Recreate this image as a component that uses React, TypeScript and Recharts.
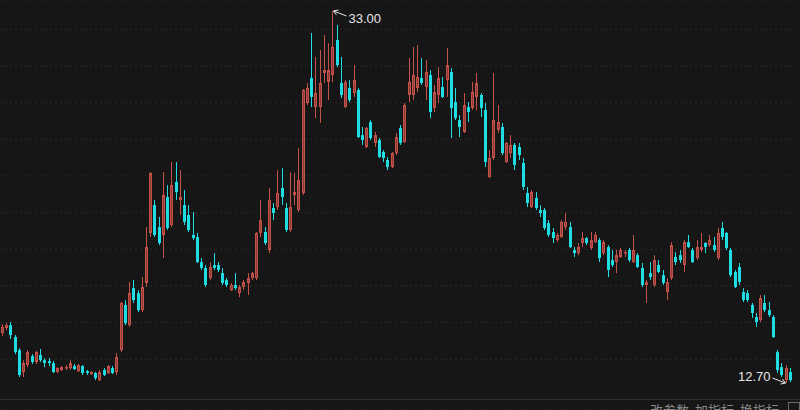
import React from 'react';
import { ComposedChart, Bar, XAxis, YAxis, CartesianGrid } from 'recharts';

const opens = [
  15.43, 15.70, 15.86, 15.21, 14.50, 13.30, 13.68, 14.17, 13.85, 14.23,
  13.95, 13.90, 13.79, 13.30, 13.41, 13.52, 13.52, 13.63, 13.35, 13.63,
  13.35, 13.19, 13.25, 12.86, 13.41, 13.25, 13.52, 13.30, 14.50, 16.96,
  15.86, 17.88, 17.61, 16.68, 18.16, 20.89, 22.41, 21.21, 20.78, 22.85,
  21.32, 23.67, 22.69, 22.41, 21.87, 20.78, 20.67, 19.30, 18.98, 18.43,
  19.14, 19.14, 18.70, 18.32, 17.77, 18.05, 17.61, 17.94, 18.16, 18.43,
  18.43, 20.89, 20.94, 19.96, 22.25, 22.30, 23.34, 22.25, 21.05, 22.96,
  22.14, 23.07, 27.98, 29.34, 27.76, 27.76, 29.62, 29.13, 29.51, 31.42,
  29.07, 27.76, 28.80, 28.52, 28.69, 26.23, 25.58, 26.94, 25.80, 25.96,
  25.31, 24.87, 24.49, 25.25, 26.62, 25.85, 28.42, 28.42, 28.80, 29.34,
  28.85, 29.51, 27.71, 28.42, 28.85, 29.23, 29.67, 28.03, 27.05, 26.40,
  27.76, 27.71, 28.31, 28.42, 27.60, 23.94, 24.98, 26.51, 26.67, 24.76,
  25.25, 25.69, 25.58, 24.71, 23.07, 22.30, 22.80, 22.14, 22.14, 21.43,
  20.94, 20.50, 20.67, 21.21, 21.21, 19.96, 19.79, 20.34, 20.61, 20.07,
  20.39, 20.50, 19.79, 20.12, 19.41, 19.30, 19.58, 19.79, 19.96, 19.30,
  19.68, 18.98, 18.05, 18.70, 18.05, 19.14, 18.59, 17.67, 18.43, 19.58,
  19.68, 19.14, 20.39, 19.96, 19.52, 19.96, 20.34, 20.23, 20.23, 19.52,
  21.16, 20.89, 19.96, 18.76, 19.03, 17.67, 17.61, 16.96, 16.30, 16.14,
  17.07, 16.68, 16.30, 14.39, 13.57, 12.86, 13.30,
];

const highs = [
  15.92, 15.97, 16.03, 15.32, 14.61, 13.95, 14.50, 14.28, 14.45, 14.56,
  14.06, 14.06, 13.90, 13.57, 13.63, 13.68, 13.95, 13.74, 13.74, 13.68,
  13.41, 13.35, 13.30, 13.41, 13.52, 13.68, 13.63, 14.34, 17.12, 17.23,
  18.21, 18.32, 17.77, 18.48, 21.21, 24.21, 22.69, 21.76, 24.21, 23.50,
  24.76, 24.76, 24.32, 23.23, 22.41, 22.03, 20.89, 19.52, 19.14, 19.30,
  19.79, 19.30, 18.98, 18.43, 18.16, 18.70, 18.05, 18.32, 18.70, 18.76,
  20.94, 22.69, 21.21, 23.34, 22.52, 24.32, 24.43, 22.52, 24.21, 24.16,
  25.52, 28.74, 29.07, 31.80, 30.49, 30.87, 31.69, 31.25, 33.00, 32.24,
  30.49, 29.23, 29.23, 30.05, 28.80, 26.67, 26.67, 27.05, 26.40, 26.07,
  25.41, 25.03, 25.31, 26.34, 26.78, 27.98, 30.43, 31.04, 31.14, 30.43,
  30.33, 29.78, 28.96, 29.94, 29.40, 30.98, 29.89, 28.80, 27.32, 28.52,
  28.03, 29.13, 29.62, 28.52, 27.98, 25.41, 29.62, 27.87, 26.89, 25.85,
  26.23, 25.80, 25.80, 24.98, 23.40, 23.23, 23.12, 22.41, 22.25, 21.59,
  21.16, 20.89, 21.59, 21.98, 21.49, 20.12, 20.34, 20.94, 20.67, 20.94,
  20.94, 20.61, 20.50, 20.23, 19.96, 19.96, 20.07, 19.96, 20.07, 20.78,
  19.79, 19.25, 18.32, 19.30, 19.68, 19.41, 18.87, 18.43, 20.39, 19.85,
  19.96, 20.50, 20.78, 20.07, 20.50, 20.89, 20.39, 20.78, 20.67, 21.16,
  21.49, 20.94, 20.07, 18.87, 19.25, 17.88, 17.77, 17.07, 16.52, 17.50,
  17.50, 17.12, 16.41, 14.50, 13.79, 13.68, 13.52,
];

const lows = [
  15.26, 15.59, 15.10, 14.28, 13.03, 13.03, 13.57, 13.74, 13.74, 13.85,
  13.57, 13.63, 13.25, 13.25, 13.35, 13.41, 13.41, 13.41, 13.30, 13.14,
  13.14, 13.14, 12.86, 12.81, 13.08, 13.19, 13.19, 13.14, 14.39, 15.86,
  15.76, 17.07, 16.57, 16.57, 17.94, 20.67, 20.67, 20.23, 19.52, 21.05,
  21.21, 22.69, 21.87, 21.32, 20.94, 20.50, 19.25, 18.87, 17.94, 18.32,
  18.87, 18.76, 18.05, 17.94, 17.72, 17.77, 17.39, 17.77, 17.50, 18.32,
  18.32, 20.67, 20.23, 19.79, 21.59, 22.14, 22.41, 20.94, 20.94, 22.41,
  22.03, 22.96, 27.87, 27.76, 27.16, 26.89, 29.07, 28.14, 29.13, 29.94,
  28.25, 27.71, 28.03, 28.31, 26.07, 25.69, 25.52, 25.96, 25.58, 24.98,
  24.76, 24.32, 24.43, 25.14, 25.69, 25.80, 28.03, 28.14, 28.58, 28.96,
  28.14, 27.16, 27.49, 27.98, 28.25, 28.31, 26.07, 27.05, 26.12, 26.34,
  26.94, 27.60, 27.60, 27.22, 24.49, 23.89, 24.87, 26.34, 25.14, 24.71,
  24.98, 24.32, 24.87, 23.23, 22.30, 22.25, 22.14, 21.76, 21.05, 20.67,
  20.34, 20.39, 20.61, 21.05, 20.07, 19.58, 19.68, 20.12, 20.23, 19.96,
  20.34, 19.30, 19.68, 18.48, 19.03, 18.70, 19.52, 19.58, 19.30, 19.25,
  18.98, 17.94, 17.07, 18.32, 17.94, 18.70, 18.05, 17.23, 18.32, 19.14,
  19.25, 18.76, 20.07, 19.25, 19.41, 19.85, 19.79, 20.12, 19.85, 19.41,
  20.50, 19.96, 18.48, 17.88, 18.05, 17.12, 17.12, 16.25, 15.76, 16.03,
  16.57, 16.30, 15.16, 13.25, 13.03, 12.70, 12.75,
];

const closes = [
  15.76, 15.86, 15.32, 14.39, 13.14, 13.79, 14.39, 13.85, 14.39, 13.95,
  13.79, 13.79, 13.30, 13.52, 13.57, 13.57, 13.79, 13.46, 13.68, 13.25,
  13.25, 13.30, 12.97, 13.30, 13.14, 13.63, 13.25, 14.12, 17.07, 15.97,
  17.61, 17.23, 16.68, 17.94, 20.12, 24.16, 20.78, 20.34, 22.96, 21.16,
  23.50, 23.12, 22.85, 21.49, 21.05, 20.61, 19.30, 18.98, 18.05, 19.03,
  18.98, 18.87, 18.16, 18.05, 18.05, 17.88, 17.94, 18.21, 18.43, 18.70,
  20.89, 21.59, 20.34, 22.69, 21.98, 23.07, 22.85, 21.05, 22.30, 23.12,
  23.78, 28.69, 28.80, 28.31, 28.52, 29.07, 29.78, 29.78, 31.04, 30.05,
  28.42, 29.13, 28.14, 29.23, 26.12, 25.96, 26.62, 26.07, 26.23, 25.03,
  24.98, 24.49, 25.25, 26.12, 25.80, 27.87, 29.13, 29.51, 29.40, 29.07,
  29.67, 27.49, 28.58, 29.34, 28.31, 30.05, 27.71, 27.16, 26.67, 27.87,
  27.49, 28.58, 29.07, 27.71, 24.76, 24.98, 27.05, 26.94, 25.25, 25.80,
  25.69, 24.60, 25.14, 23.40, 22.52, 23.12, 22.25, 21.98, 21.16, 20.78,
  20.61, 20.78, 21.49, 21.49, 20.12, 19.79, 20.12, 20.61, 20.34, 20.50,
  20.78, 19.52, 20.39, 18.87, 19.14, 19.68, 19.96, 19.85, 19.41, 19.96,
  19.03, 18.05, 18.21, 18.48, 19.41, 18.76, 18.16, 18.21, 20.23, 19.30,
  19.41, 20.39, 20.12, 19.30, 20.12, 20.12, 20.12, 20.50, 19.96, 20.89,
  20.67, 20.07, 18.59, 17.94, 18.21, 17.23, 17.23, 16.52, 16.03, 17.34,
  16.68, 16.41, 15.21, 13.41, 13.14, 13.52, 12.86,
];

const gridPrices = [14, 16, 18, 20, 22, 24, 26, 28, 30, 32];
const bottomLabels = ['改参数', '加指标', '换指标'];

const data = opens.map((o, i) => ({
  idx: i,
  open: o,
  high: highs[i],
  low: lows[i],
  close: closes[i],
  range: [lows[i], highs[i]],
}));

const maxHigh = Math.max(...highs);
const minLow = Math.min(...lows);

const UP_STROKE = '#c4514a';
const UP_FILL = '#8c3a35';
const DOWN = '#1fdde2';
const ANN = '#e6e6e6';

const Candle = (props: any) => {
  const { x, width, payload } = props;
  let { y, height } = props;
  if (height < 0) {
    y = y + height;
    height = -height;
  }
  const { open, close, high, low } = payload;
  const span = high - low || 1;
  const ratio = height / span;
  const yOf = (v: number) => y + (high - v) * ratio;
  const c = Math.round(x + width / 2);
  const up = close >= open;
  const top = yOf(Math.max(open, close));
  const bot = yOf(Math.min(open, close));
  const bodyH = Math.max(1, bot - top);
  const yHigh = yOf(high);
  const yLow = yOf(low);
  const elems: any[] = [];
  if (up) {
    elems.push(
      <line key="w" x1={c + 0.5} x2={c + 0.5} y1={yHigh} y2={yLow} stroke={UP_STROKE} strokeWidth={1} />
    );
    elems.push(
      <rect key="b" x={c - 0.5} y={top + 0.5} width={2} height={Math.max(0.5, bodyH - 1)} fill={UP_FILL} stroke={UP_STROKE} strokeWidth={1} />
    );
  } else {
    elems.push(
      <line key="w" x1={c + 0.5} x2={c + 0.5} y1={yHigh} y2={yLow} stroke={DOWN} strokeWidth={1} />
    );
    elems.push(<rect key="b" x={c - 1} y={top} width={3} height={bodyH} fill={DOWN} />);
  }
  if (high === maxHigh) {
    const ax = c + 1.5;
    const ay = yHigh;
    elems.push(
      <g key="amax">
        <line x1={ax} y1={ay} x2={ax + 13} y2={ay + 5} stroke={ANN} strokeWidth={1} />
        <polyline points={`${ax + 5},${ay - 1} ${ax},${ay} ${ax + 3},${ay + 4}`} fill="none" stroke={ANN} strokeWidth={1} />
        <text x={ax + 15} y={ay + 12} fill={ANN} fontSize={13} fontFamily="'Liberation Sans', Arial, sans-serif">
          {high.toFixed(2)}
        </text>
      </g>
    );
  }
  if (low === minLow) {
    const ax = c - 0.5;
    const ay = yLow;
    elems.push(
      <g key="amin">
        <line x1={ax} y1={ay} x2={ax - 13} y2={ay - 5} stroke={ANN} strokeWidth={1} />
        <polyline points={`${ax - 5},${ay + 1} ${ax},${ay} ${ax - 3},${ay - 4}`} fill="none" stroke={ANN} strokeWidth={1} />
        <text x={ax - 15} y={ay - 2} fill={ANN} fontSize={13} textAnchor="end" fontFamily="'Liberation Sans', Arial, sans-serif">
          {low.toFixed(2)}
        </text>
      </g>
    );
  }
  return <g>{elems}</g>;
};

export default function App() {
  return (
    <div
      style={{
        position: 'absolute',
        left: 0,
        top: 0,
        width: 800,
        height: 410,
        background: '#161616',
        overflow: 'hidden',
      }}
    >
      <ComposedChart
        width={800}
        height={410}
        data={data}
        margin={{ top: 0, right: 8, bottom: 0, left: 0 }}
        barCategoryGap="0%"
      >
        <CartesianGrid vertical={false} stroke="#2b2b2b" strokeDasharray="2 3" />
        <XAxis dataKey="idx" hide />
        <YAxis hide domain={[11.23, 33.6]} ticks={gridPrices} allowDataOverflow />
        <Bar dataKey="range" shape={Candle} isAnimationActive={false} />
      </ComposedChart>
      <svg
        width={800}
        height={410}
        style={{ position: 'absolute', left: 0, top: 0, pointerEvents: 'none' }}
      >
        <line x1={0} x2={800} y1={399.5} y2={399.5} stroke="#303030" strokeWidth={1} />
        {bottomLabels.map((t, i) => (
          <text
            key={t}
            x={650 + i * 45}
            y={415}
            fill="#8a8a8a"
            fontSize={13}
            fontFamily="'Noto Sans CJK SC', sans-serif"
          >
            {t}
          </text>
        ))}
        <rect x={788.5} y={402.5} width={11} height={11} fill="none" stroke="#6a6a6a" strokeWidth={1} />
      </svg>
    </div>
  );
}
